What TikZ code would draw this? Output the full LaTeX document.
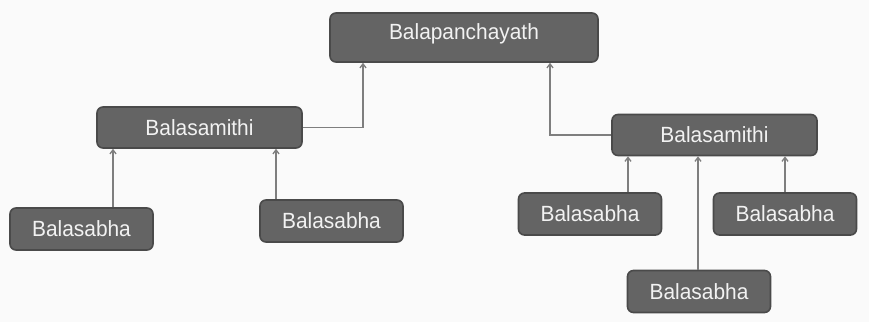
\documentclass[tikz,border=0pt]{standalone}
\usepackage{fontspec}
\setmainfont[FakeStretch=0.95]{Liberation Sans}
\usetikzlibrary{arrows.meta}
\definecolor{boxfill}{HTML}{646464}
\definecolor{boxedge}{HTML}{4A4A4A}
\definecolor{wire}{HTML}{7E7E7E}
\definecolor{paper}{HTML}{FAFAFA}
\definecolor{label}{HTML}{F2F2F2}
\begin{document}
\begin{tikzpicture}[x=1pt,y=-1pt,
  unit/.style={draw=boxedge, line width=1.6pt, fill=boxfill, rounded corners=6pt,
    text=label, inner sep=0pt, font=\fontsize{22}{26}\selectfont,
    text height=15.8pt, text depth=0pt},
  topunit/.style={unit, minimum width=268pt, minimum height=49pt, text depth=12pt},
  samithi/.style={unit, minimum width=205pt, minimum height=41pt},
  sabha/.style={unit, minimum width=143pt, minimum height=42pt},
  arr/.style={draw=wire, line width=1.3pt, -{Straight Barb[length=4pt,width=6pt]}}]
  % page
  \fill[paper] (0,0) rectangle (869,322);
  \useasboundingbox (0,0) rectangle (869,322);

  % units
  \node[topunit] (top) at (464,37.5) {Balapanchayath};
  \node[samithi] (ls) at (199.5,127.5) {Balasamithi};
  \node[samithi] (rs) at (714.5,135) {Balasamithi};
  \node[sabha] (s1) at (81.5,229) {Balasabha};
  \node[sabha] (s2) at (331.5,221) {Balasabha};
  \node[sabha] (r1) at (590,214) {Balasabha};
  \node[sabha] (r2) at (785,214) {Balasabha};
  \node[sabha] (r3) at (699,291.5) {Balasabha};

  % columns where the connectors run
  \coordinate (jl) at (363,0);
  \coordinate (jr) at (550,0);
  \coordinate (a1) at (113,0);
  \coordinate (a2) at (276,0);
  \coordinate (b1) at (628,0);
  \coordinate (b2) at (785,0);
  \coordinate (b3) at (698,0);

  % samithi to panchayath
  \draw[arr] (ls.east) -| (jl |- top.south);
  \draw[arr] (rs.west) -| (jr |- top.south);

  % sabha to samithi
  \draw[arr] (a1 |- s1.north) -- (a1 |- ls.south);
  \draw[arr] (a2 |- s2.north) -- (a2 |- ls.south);
  \draw[arr] (b1 |- r1.north) -- (b1 |- rs.south);
  \draw[arr] (b2 |- r2.north) -- (b2 |- rs.south);
  \draw[arr] (b3 |- r3.north) -- (b3 |- rs.south);
\end{tikzpicture}
\end{document}
